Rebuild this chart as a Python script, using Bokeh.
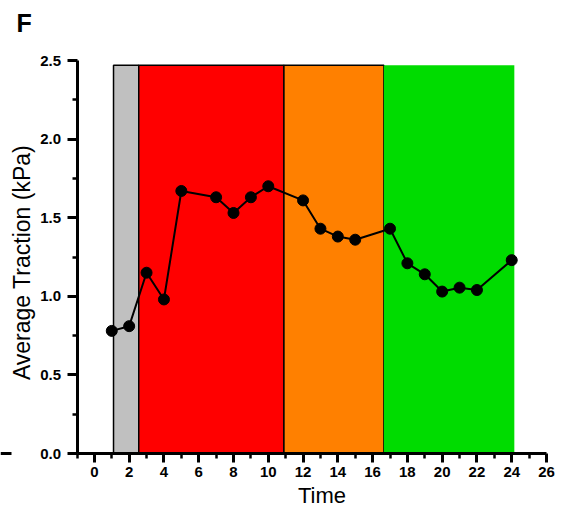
import math
from bokeh.plotting import figure
from bokeh.models import (Range1d, FixedTicker, PrintfTickFormatter, Label,
                          BoxAnnotation, ColumnDataSource)
from bokeh.embed import file_html
from bokeh.resources import INLINE

# Average traction over time
time = [1, 2, 3, 4, 5, 7, 8, 9, 10, 12, 13, 14, 15, 17, 18, 19, 20, 21, 22, 24]
traction = [0.78, 0.81, 1.15, 0.98, 1.67, 1.63, 1.53, 1.63, 1.70, 1.61,
            1.43, 1.38, 1.36, 1.43, 1.21, 1.14, 1.03, 1.055, 1.04, 1.23]

# Shaded phases
phase_left = [1.1, 2.55, 10.9, 16.65]
phase_right = [2.55, 10.9, 16.65, 24.15]
phase_top = [2.47, 2.47, 2.47, 2.47]
phase_color = ["#c0c0c0", "#ff0000", "#ff8000", "#00dc00"]
phase_edge = [1, 1, 1, 0]

x_major = list(range(0, 27, 2))
x_minor = list(range(-1, 26, 2))
y_major = [0.0, 0.5, 1.0, 1.5, 2.0, 2.5]
y_minor = [0.25, 0.75, 1.25, 1.75, 2.25]
x_lim = (-1, 26)
y_lim = (0.0, 2.5)

FONT = "Liberation Sans"

# Page size and where the axes box sits on it (pixels from top-left)
W, H = 562, 508
BOX_L, BOX_R, BOX_T, BOX_B = 76.5, 546, 60, 453

# The plotting area covers the whole page; the axes are pinned inside it,
# so the ranges are widened to put the axes box at the wanted pixels.
ux = (x_lim[1] - x_lim[0]) / (BOX_R - BOX_L)
uy = (y_lim[1] - y_lim[0]) / (BOX_B - BOX_T)
x_range = Range1d(x_lim[0] - BOX_L * ux, x_lim[1] + (W - BOX_R) * ux)
y_range = Range1d(y_lim[0] - (H - BOX_B) * uy, y_lim[1] + BOX_T * uy)

p = figure(width=W, height=H, output_backend="svg", toolbar_location=None,
           x_range=x_range, y_range=y_range,
           min_border_left=0, min_border_right=0,
           min_border_top=0, min_border_bottom=0)
p.outline_line_color = None
p.xgrid.visible = False
p.ygrid.visible = False
p.background_fill_color = "white"
p.border_fill_color = "white"

phases = ColumnDataSource(dict(left=phase_left, right=phase_right,
                               top=phase_top, bottom=[0] * len(phase_left),
                               color=phase_color, edge=phase_edge))
p.quad(left="left", right="right", top="top", bottom="bottom", source=phases,
       fill_color="color", line_color="black", line_alpha="edge", line_width=1.5)

p.line(time, traction, line_color="black", line_width=2)
p.scatter(time, traction, size=11, fill_color="black", line_color="black")

xa = p.xaxis[0]
ya = p.yaxis[0]
xa.fixed_location = y_lim[0]
ya.fixed_location = x_lim[0]
xa.bounds = x_lim
ya.bounds = y_lim

for ax in (xa, ya):
    ax.axis_line_width = 3
    ax.major_tick_line_width = 3
    ax.minor_tick_line_width = 2.5
    ax.major_tick_in = 0
    ax.minor_tick_in = 0
    ax.minor_tick_out = 5
    ax.major_label_text_font = FONT
    ax.major_label_text_font_style = "bold"
    ax.major_label_text_font_size = "15px"
    ax.major_label_text_color = "black"

xa.major_tick_out = 9
xa.major_label_standoff = 4
xa.ticker = FixedTicker(ticks=x_major, minor_ticks=x_minor)

ya.major_tick_out = 10
ya.major_label_standoff = 6
ya.ticker = FixedTicker(ticks=y_major, minor_ticks=y_minor)
ya.formatter = PrintfTickFormatter(format="%.1f")

# Titles
p.add_layout(Label(x=321.5, y=495, x_units="canvas", y_units="canvas",
                   text="Time", text_font=FONT, text_font_size="22px",
                   text_color="black", text_align="center",
                   text_baseline="middle"))
p.add_layout(Label(x=21, y=262, x_units="canvas", y_units="canvas",
                   text="Average Traction (kPa)", angle=math.pi / 2,
                   text_font=FONT, text_font_size="23px", text_color="black",
                   text_align="center", text_baseline="middle"))
p.add_layout(Label(x=16, y=22.5, x_units="canvas", y_units="canvas", text="F",
                   text_font=FONT, text_font_size="25px",
                   text_font_style="bold", text_color="black",
                   text_align="left", text_baseline="middle"))

# short stroke on the zero line at the far left
p.add_layout(BoxAnnotation(left=0, right=11, top=451.5, bottom=454.5,
                           left_units="canvas", right_units="canvas",
                           top_units="canvas", bottom_units="canvas",
                           fill_color="black", fill_alpha=1, line_color=None))

open("out.html", "w").write(file_html(p, INLINE))
